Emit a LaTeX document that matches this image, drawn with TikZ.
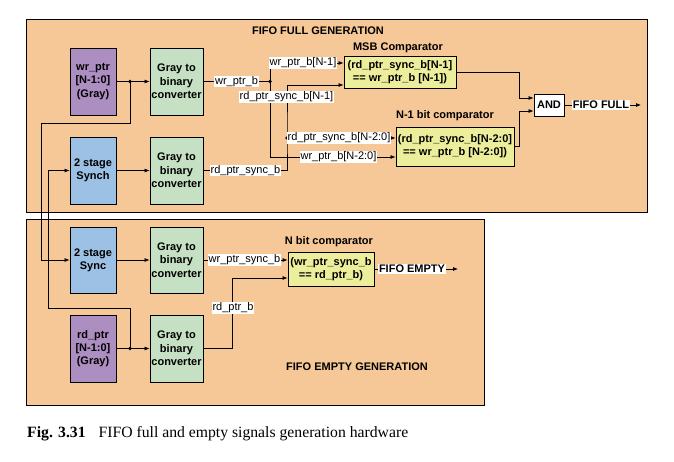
\documentclass[tikz,border=0pt]{standalone}
\usepackage{fontspec}
\setmainfont{Liberation Sans}
\newfontfamily\capfont{Liberation Serif}
\usepackage{tikz}
\usetikzlibrary{arrows.meta, positioning}
\definecolor{panelfill}{HTML}{F6C797}
\definecolor{ptrfill}{HTML}{AD8EC1}
\definecolor{convfill}{HTML}{C5E0C3}
\definecolor{syncfill}{HTML}{9DC1E5}
\definecolor{cmpfill}{HTML}{EDEE9C}

\begin{document}
\begin{tikzpicture}[x=1pt, y=-1pt,
    font=\fontsize{11}{13.3}\selectfont,
    wire/.style={line width=0.75pt},
    arr/.style={wire, -{Latex[length=5pt, width=4pt]}},
    blk/.style={draw, line width=0.8pt, align=center, inner sep=1pt,
        font=\fontsize{11}{13.3}\selectfont\bfseries},
    ptrbox/.style={blk, fill=ptrfill, minimum width=46pt, minimum height=67pt},
    convbox/.style={blk, fill=convfill, minimum width=53pt, minimum height=67pt},
    syncbox/.style={blk, fill=syncfill, minimum width=46pt, minimum height=67pt},
    cmpbox/.style={blk, fill=cmpfill},
    sig/.style={fill=white, inner sep=0.8pt},
    ttl/.style={font=\fontsize{11}{13.3}\selectfont\bfseries}
]
    \useasboundingbox (0,0) rectangle (674,462);

    % Panels
    \filldraw[fill=panelfill, line width=0.9pt] (26,19) rectangle (647,212);
    \filldraw[fill=panelfill, line width=0.9pt] (26,219) rectangle (484,405);

    \node[ttl] (fulltitle) at (318,31) {FIFO FULL GENERATION};
    \node[ttl] (emptytitle) at (357,367) {FIFO EMPTY GENERATION};

    % Full generation blocks
    \node[ptrbox] (wrptr) at (93,81.5) {wr\_ptr\\{[N-1:0]}\\(Gray)};
    \node[convbox] (gray1) at (176.5,81.5) {Gray to\\binary\\converter};
    \node[syncbox] (synch) at (93,170.5) {2 stage\\Synch};
    \node[convbox] (gray2) at (176.5,170.5) {Gray to\\binary\\converter};

    \node[cmpbox, minimum width=112pt, minimum height=32pt] (msb) at (400,72)
        {(rd\_ptr\_sync\_b[N-1]\\== wr\_ptr\_b [N-1])};
    \node[ttl] (msbtitle) at (398,48) {MSB Comparator};
    \node[cmpbox, minimum width=118pt, minimum height=39pt] (nm1) at (455,146.5)
        {(rd\_ptr\_sync\_b[N-2:0]\\== wr\_ptr\_b [N-2:0])};
    \node[ttl] (nm1title) at (445,116) {N-1 bit comparator};
    \node[blk, fill=white, minimum width=30pt, minimum height=22pt] (andg) at (549,105) {AND};

    % Empty generation blocks
    \node[syncbox, minimum height=66pt] (sync) at (93,260) {2 stage\\Sync};
    \node[convbox, minimum height=66pt] (gray3) at (176.5,260) {Gray to\\binary\\converter};
    \node[ptrbox] (rdptr) at (93,348.5) {rd\_ptr\\{[N-1:0]}\\(Gray)};
    \node[convbox] (gray4) at (176.5,348.5) {Gray to\\binary\\converter};
    \node[cmpbox, minimum width=86pt, minimum height=34pt] (ncmp) at (331,269)
        {(wr\_ptr\_sync\_b\\== rd\_ptr\_b)};
    \node[ttl] (ncmptitle) at (329,242) {N bit comparator};

    % Junctions and ports
    \coordinate (j1) at (130,81.5);
    \coordinate (j2) at (130,348.5);
    \coordinate (j3) at (270,81.5);
    \coordinate (j4) at (287,138);
    \coordinate (msbin1) at ([yshift=9pt]msb.west);
    \coordinate (msbin2) at ([yshift=-13pt]msb.west);
    \coordinate (nm1in1) at ([yshift=8.5pt]nm1.west);
    \coordinate (nm1in2) at ([yshift=-10.5pt]nm1.west);
    \coordinate (andin1) at ([yshift=7pt]andg.west);
    \coordinate (andin2) at ([yshift=-6pt]andg.west);
    \coordinate (ncmpin1) at ([yshift=9pt]ncmp.west);
    \coordinate (ncmpin2) at ([yshift=-9pt]ncmp.west);
    \coordinate (fullout) at (641,105);
    \coordinate (emptyout) at (458,269);

    % Pointer wires and cross links
    \draw[wire] (wrptr.east) -- (j1);
    \draw[arr] (j1) -- (gray1.west);
    \draw[arr] (j1) |- (41,123) |- (sync.west);
    \draw[wire] (rdptr.east) -- (j2);
    \draw[arr] (j2) -- (gray4.west);
    \draw[arr] (j2) |- (48,308) |- (synch.west);
    \draw[arr] (synch) -- (gray2);
    \draw[arr] (sync) -- (gray3);

    % Full side wires
    \draw[wire] (gray1.east) -- (j3);
    \draw[arr] (j3) |- (msbin1);
    \draw[arr] (j3) |- (nm1in2);
    \draw[arr] (gray2.east) -| (j4) |- (msbin2);
    \draw[arr] (j4) -- (nm1in1);
    \draw[arr] (msb.east) -| ([xshift=-14pt]andin1) -- (andin1);
    \draw[arr] (nm1.east) -| ([xshift=-14pt]andin2) -- (andin2);
    \draw[arr] (andg.east) -- (fullout);

    % Empty side wires
    \draw[arr] (gray3.east) -- (ncmpin1);
    \draw[arr] (gray4.east) -| ([xshift=-55pt]ncmpin2) -- (ncmpin2);
    \draw[arr] (ncmp.east) -- (emptyout);

    \foreach \j in {j1,j2,j3,j4}
        \fill (\j) circle (1.8pt);

    % Signal labels
    \node[sig] at (236.5,81.5) {wr\_ptr\_b};
    \node[sig] at (303,63) {wr\_ptr\_b[N-1]};
    \node[sig] at (286.5,97) {rd\_ptr\_sync\_b[N-1]};
    \node[sig] at (339,138) {rd\_ptr\_sync\_b[N-2:0]};
    \node[sig] at (338.5,157) {wr\_ptr\_b[N-2:0]};
    \node[sig] at (245.5,170.5) {rd\_ptr\_sync\_b};
    \node[sig, ttl] at (601,105) {FIFO FULL};
    \node[sig] at (244.5,260) {wr\_ptr\_sync\_b};
    \node[sig] at (233,308) {rd\_ptr\_b};
    \node[sig, ttl] at (412,269) {FIFO EMPTY};

    % Caption
    \node[anchor=base west, inner sep=0pt, font=\capfont\fontsize{15.7}{18}\selectfont] (caption) at (27,437)
        {\textbf{Fig. 3.31}\hspace{13pt}FIFO full and empty signals generation hardware};

\end{tikzpicture}
\end{document}
